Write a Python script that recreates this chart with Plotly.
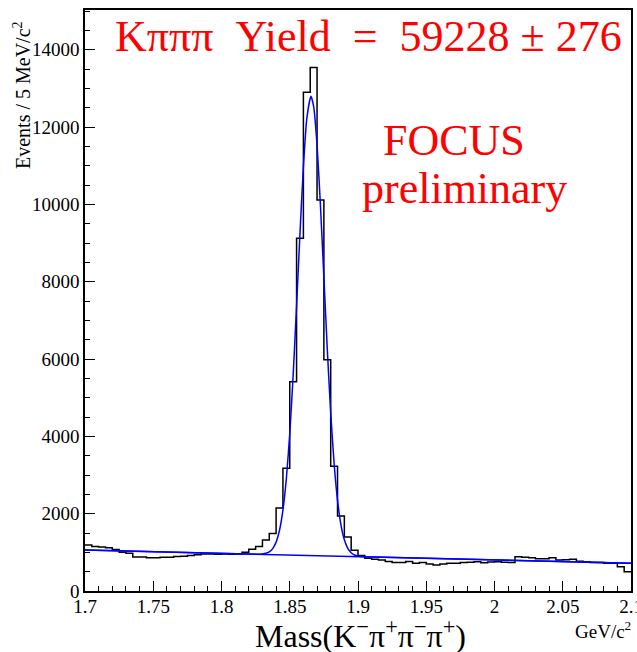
import plotly.graph_objects as go

# ---- data ----
bin_low = 1.70
bin_width = 0.005
counts = [
    1190, 1150, 1140, 1120, 1075, 1000, 975, 880, 880, 860,
    860, 870, 875, 890, 900, 920, 940, 960, 960, 950,
    960, 950, 957, 1000, 1080, 1150, 1320, 1490, 2150, 3174,
    5415, 9125, 12900, 13540, 10115, 5980, 3225, 1940, 1395, 1055,
    920, 846, 820, 800, 760, 740, 740, 760, 716, 740,
    700, 673, 700, 716, 720, 740, 742, 758, 730, 750,
    758, 745, 740, 888, 872, 860, 836, 836, 860, 802,
    810, 820, 770, 758, 740, 740, 720, 716, 630, 500,
]

fit_mass = [1.700, 1.825, 1.830, 1.8325, 1.835, 1.8375, 1.840, 1.8425, 1.845,
            1.8475, 1.850, 1.8525, 1.855, 1.8575, 1.860, 1.8625, 1.8655, 1.8675,
            1.870, 1.8725, 1.875, 1.8775, 1.880, 1.8825, 1.885, 1.8875, 1.890,
            1.8925, 1.895, 1.8975, 1.900, 1.905, 2.100]
fit_value = [1060, 953, 959, 975, 1013, 1097, 1265, 1572, 2092,
             2906, 4068, 5589, 7377, 9254, 10969, 12221, 12798, 12535,
             11534, 9967, 8115, 6257, 4611, 3299, 2346, 1713, 1324,
             1104, 989, 931, 904, 886, 716]

bkg_mass = [1.700, 2.100]
bkg_value = [1060, 716]

y_tick_vals = [0, 2000, 4000, 6000, 8000, 10000, 12000, 14000]
y_tick_text = ["0", "2000", "4000", "6000", "8000", "10000", "12000", "14000"]
x_tick_vals = [1.7, 1.75, 1.8, 1.85, 1.9, 1.95, 2.0, 2.05, 2.1]
x_tick_text = ["1.7", "1.75", "1.8", "1.85", "1.9", "1.95", "2", "2.05", "2.1"]

# ---- build step outline ----
edges = [bin_low + i * bin_width for i in range(len(counts) + 1)]
step_y = counts + [counts[-1]]

fig = go.Figure()
fig.add_trace(go.Scatter(x=edges, y=step_y, mode="lines", line=dict(shape="hv", color="black", width=1.5),
                         hoverinfo="skip", showlegend=False))
fig.add_trace(go.Scatter(x=bkg_mass, y=bkg_value, mode="lines", line=dict(color="#0000ff", width=1.5),
                         showlegend=False))
fig.add_trace(go.Scatter(x=fit_mass, y=fit_value, mode="lines",
                         line=dict(color="#0000ff", width=1.5, shape="spline", smoothing=0.6),
                         showlegend=False))

W, H = 637, 652
L, R, T, B = 85, 6, 10, 61
pw, ph = W - L - R, H - T - B

def px(x):
    return (x - L) / pw

def py(y):
    return (H - B - y) / ph

serif = "Liberation Serif"

fig.update_layout(
    width=W, height=H,
    margin=dict(l=L, r=R, t=T, b=B, autoexpand=False),
    paper_bgcolor="white", plot_bgcolor="white",
    font=dict(family=serif, color="black", size=18),
    xaxis=dict(range=[1.7, 2.1], tickvals=x_tick_vals, ticktext=x_tick_text,
               ticks="inside", ticklen=10, tickwidth=1, tickcolor="black",
               minor=dict(dtick=0.01, tick0=1.7, ticks="inside", ticklen=5, tickcolor="black"),
               showline=True, linecolor="black", linewidth=1.5, mirror=True,
               showgrid=False, zeroline=False, automargin=False,
               ticklabeloverflow="allow", ticklabelstandoff=-3,
               tickfont=dict(family=serif, size=19, color="black")),
    yaxis=dict(range=[0, 15030], tickvals=y_tick_vals, ticktext=y_tick_text,
               ticks="inside", ticklen=10, tickwidth=1, tickcolor="black",
               minor=dict(dtick=500, tick0=0, ticks="inside", ticklen=5, tickcolor="black"),
               showline=True, linecolor="black", linewidth=1.5, mirror=True,
               showgrid=False, zeroline=False, automargin=False,
               ticklabeloverflow="allow",
               tickfont=dict(family=serif, size=19, color="black")),
    annotations=[
        dict(text="Kπππ  Yield  =  59228 ± 276", x=px(368), y=py(37), xref="paper", yref="paper",
             xanchor="center", yanchor="middle", showarrow=False,
             font=dict(family=serif, size=44, color="#ff0000")),
        dict(text="FOCUS", x=px(454), y=py(140), xref="paper", yref="paper",
             xanchor="center", yanchor="middle", showarrow=False,
             font=dict(family=serif, size=44, color="#ff0000")),
        dict(text="preliminary", x=px(464), y=py(188), xref="paper", yref="paper",
             xanchor="center", yanchor="middle", showarrow=False,
             font=dict(family=serif, size=44, color="#ff0000")),
        dict(text="Mass(K<sup>−</sup>π<sup>+</sup>π<sup>−</sup>π<sup>+</sup>)", x=px(360), y=py(634),
             xref="paper", yref="paper", xanchor="center", yanchor="middle", showarrow=False,
             font=dict(family=serif, size=32, color="black")),
        dict(text="GeV/c<sup>2</sup>", x=px(633), y=py(630), xref="paper", yref="paper",
             xanchor="right", yanchor="middle", showarrow=False,
             font=dict(family=serif, size=19, color="black")),
        dict(text="Events / 5 MeV/c<sup>2</sup>", x=px(22), y=py(95), xref="paper", yref="paper",
             xanchor="center", yanchor="middle", showarrow=False, textangle=-90,
             font=dict(family=serif, size=20, color="black")),
    ],
)

fig.write_html("out.html")
